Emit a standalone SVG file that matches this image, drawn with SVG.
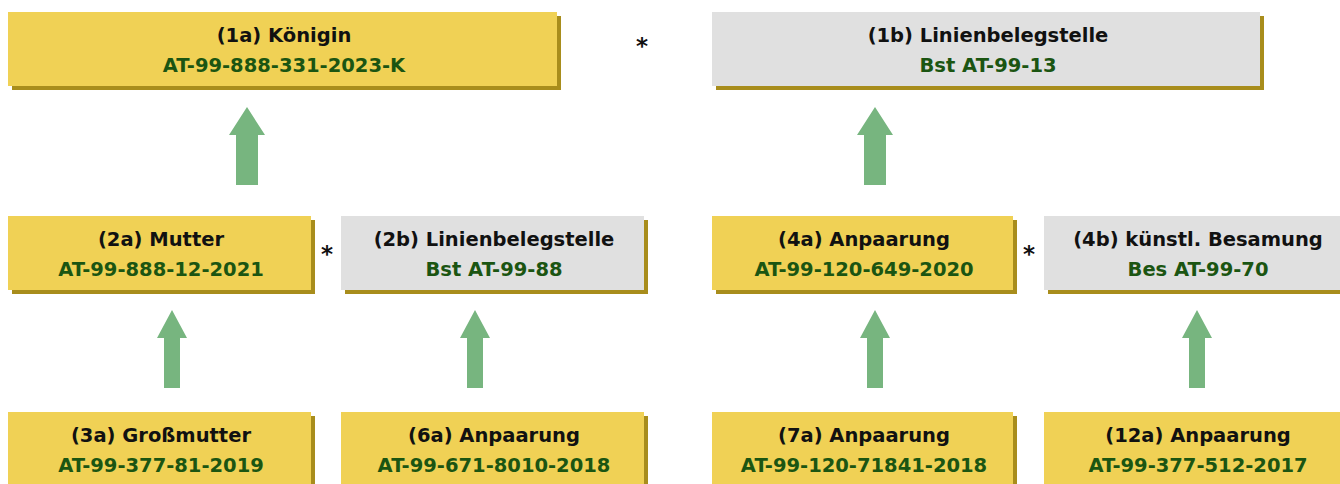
<svg xmlns="http://www.w3.org/2000/svg" width="1340" height="484" viewBox="0 0 1340 484">
<style>
.sh{fill:#a88d1c}
.y{fill:#f0d155}
.g{fill:#e0e0e0}
.t{font-family:"DejaVu Sans","Liberation Sans",sans-serif;font-weight:bold;font-size:19.5px;fill:#111;text-anchor:middle}
.c{font-family:"DejaVu Sans","Liberation Sans",sans-serif;font-weight:bold;font-size:19.5px;fill:#1b5512;text-anchor:middle}
.s{font-family:"DejaVu Sans","Liberation Sans",sans-serif;font-weight:bold;font-size:23px;fill:#111;text-anchor:middle}
.a{fill:#77b57f}
</style>
<rect width="1340" height="484" fill="#fff"/>
<g id="connectors">
<path class="a" d="M229,135 L247,107 L265,135 L258,135 L258,185 L236,185 L236,135 Z"/>
<path class="a" d="M857,135 L875,107 L893,135 L886,135 L886,185 L864,185 L864,135 Z"/>
<path class="a" d="M157,338 L172,310 L187,338 L180,338 L180,388 L164,388 L164,338 Z"/>
<path class="a" d="M460,338 L475,310 L490,338 L483,338 L483,388 L467,388 L467,338 Z"/>
<path class="a" d="M860,338 L875,310 L890,338 L883,338 L883,388 L867,388 L867,338 Z"/>
<path class="a" d="M1182,338 L1197,310 L1212,338 L1205,338 L1205,388 L1189,388 L1189,338 Z"/>
</g>
<g id="n1a">
<rect class="sh" x="12" y="16" width="549" height="74"/>
<rect class="y" x="8" y="12" width="549" height="74"/>
<text class="t" x="284" y="42">(1a) Königin</text>
<text class="c" x="284" y="72">AT-99-888-331-2023-K</text>
</g>
<g id="n1b">
<rect class="sh" x="716" y="16" width="548" height="74"/>
<rect class="g" x="712" y="12" width="548" height="74"/>
<text class="t" x="988" y="42">(1b) Linienbelegstelle</text>
<text class="c" x="988" y="72">Bst AT-99-13</text>
</g>
<g id="n2a">
<rect class="sh" x="12" y="220" width="303" height="74"/>
<rect class="y" x="8" y="216" width="303" height="74"/>
<text class="t" x="161" y="246">(2a) Mutter</text>
<text class="c" x="161" y="276">AT-99-888-12-2021</text>
</g>
<g id="n2b">
<rect class="sh" x="345" y="220" width="303" height="74"/>
<rect class="g" x="341" y="216" width="303" height="74"/>
<text class="t" x="494" y="246">(2b) Linienbelegstelle</text>
<text class="c" x="494" y="276">Bst AT-99-88</text>
</g>
<g id="n4a">
<rect class="sh" x="716" y="220" width="301" height="74"/>
<rect class="y" x="712" y="216" width="301" height="74"/>
<text class="t" x="864" y="246">(4a) Anpaarung</text>
<text class="c" x="864" y="276">AT-99-120-649-2020</text>
</g>
<g id="n4b">
<rect class="sh" x="1048" y="220" width="303" height="74"/>
<rect class="g" x="1044" y="216" width="303" height="74"/>
<text class="t" x="1198" y="246">(4b) künstl. Besamung</text>
<text class="c" x="1198" y="276">Bes AT-99-70</text>
</g>
<g id="n3a">
<rect class="sh" x="12" y="416" width="303" height="74"/>
<rect class="y" x="8" y="412" width="303" height="74"/>
<text class="t" x="161" y="442">(3a) Großmutter</text>
<text class="c" x="161" y="472">AT-99-377-81-2019</text>
</g>
<g id="n6a">
<rect class="sh" x="345" y="416" width="303" height="74"/>
<rect class="y" x="341" y="412" width="303" height="74"/>
<text class="t" x="494" y="442">(6a) Anpaarung</text>
<text class="c" x="494" y="472">AT-99-671-8010-2018</text>
</g>
<g id="n7a">
<rect class="sh" x="716" y="416" width="301" height="74"/>
<rect class="y" x="712" y="412" width="301" height="74"/>
<text class="t" x="864" y="442">(7a) Anpaarung</text>
<text class="c" x="864" y="472">AT-99-120-71841-2018</text>
</g>
<g id="n12a">
<rect class="sh" x="1048" y="416" width="303" height="74"/>
<rect class="y" x="1044" y="412" width="303" height="74"/>
<text class="t" x="1198" y="442">(12a) Anpaarung</text>
<text class="c" x="1198" y="472">AT-99-377-512-2017</text>
</g>
<g id="marks">
<text class="s" x="642" y="54">*</text>
<text class="s" x="327" y="262">*</text>
<text class="s" x="1029" y="262">*</text>
</g>
</svg>
